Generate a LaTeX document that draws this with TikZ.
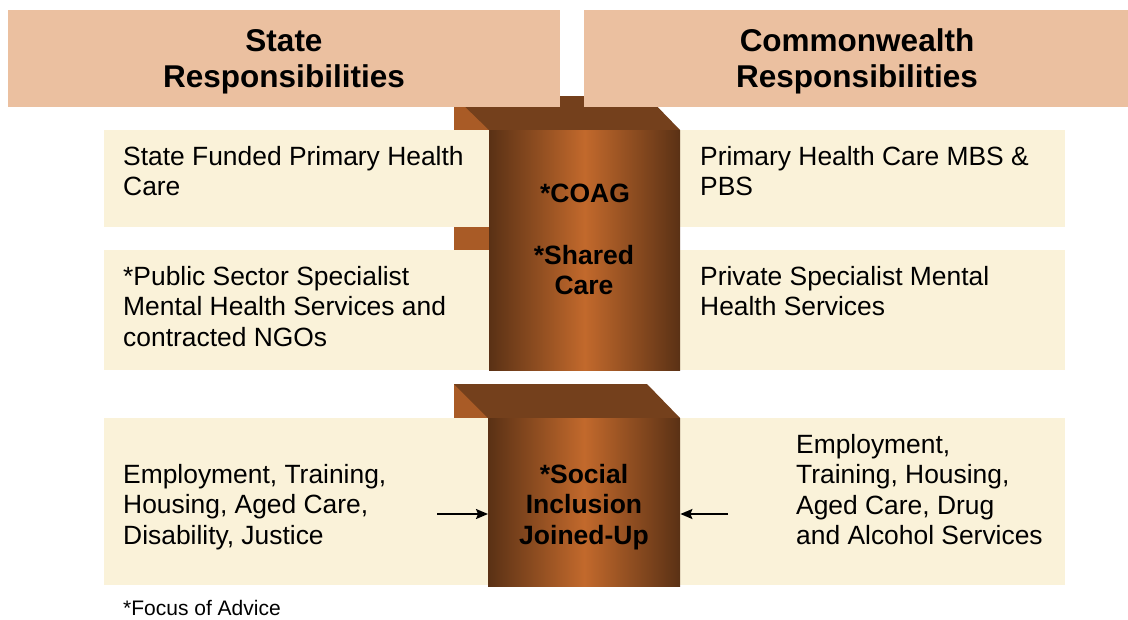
\documentclass[tikz,border=0pt]{standalone}
\usepackage{fontspec}
\setmainfont{Liberation Sans}
\usepackage{xcolor}
\usetikzlibrary{arrows.meta,calc}

\definecolor{headfill}{HTML}{EBC0A0}
\definecolor{creamfill}{HTML}{FAF2D9}
\definecolor{topbrown}{HTML}{74401C}
\definecolor{sidebrown}{HTML}{A95B26}
\definecolor{pillardark}{HTML}{5A3115}
\definecolor{pillarlight}{HTML}{C2692C}

\begin{document}
\begin{tikzpicture}[x=1pt, y=-1pt,
  head/.style={fill=headfill, inner sep=0, anchor=north west},
  htxt/.style={inner sep=0, align=center, font=\fontsize{31.5}{36}\selectfont\bfseries},
  cream/.style={fill=creamfill, inner sep=0, anchor=north west},
  txt/.style={inner sep=0, anchor=north west, align=left, font=\fontsize{26.4}{30.5}\selectfont},
  pillar/.style={shading=axis, left color=pillardark, right color=pillardark,
    middle color=pillarlight, inner sep=0, anchor=north west},
  ptxt/.style={inner sep=0, align=center, font=\fontsize{26.5}{30.5}\selectfont\bfseries},
  arr/.style={-{Stealth[length=12pt, width=10pt, inset=2pt]}, line width=1.8pt}]
\useasboundingbox (0,0) rectangle (1128,619);
% --- Blocks behind: side and top faces ---
\fill[sidebrown] (454,96) rectangle (489,336);
\fill[topbrown] (454,96) -- (647,96) -- (680,130) -- (489,130) -- cycle;
\fill[sidebrown] (454,384) rectangle (488,552);
\fill[topbrown] (454,384) -- (647,384) -- (680,418) -- (488,418) -- cycle;
% --- Headers ---
\node[head, minimum width=552pt, minimum height=97pt] (state) at (8,10) {};
\node[head, minimum width=544pt, minimum height=97pt] (cwlth) at (584,10) {};
\node[htxt] (statetxt) at (284,61.5) {State\\Responsibilities};
\node[htxt] (cwlthtxt) at (857,61.5) {Commonwealth\\Responsibilities};
% --- Left column ---
\node[cream, minimum width=385pt, minimum height=97pt] (sphc) at (104,130) {};
\node[cream, minimum width=385pt, minimum height=120pt] (psmh) at (104,250) {};
\node[cream, minimum width=385pt, minimum height=167pt] (stsoc) at (104,418) {};
\node[txt] (sphctxt) at (123,146) {State Funded Primary Health\\Care};
\node[txt] (psmhtxt) at (123,266) {*Public Sector Specialist\\Mental Health Services and\\contracted NGOs};
\node[txt] (stsoctxt) at (123,464) {Employment, Training,\\Housing, Aged Care,\\Disability, Justice};
% --- Right column ---
\node[cream, minimum width=385pt, minimum height=97pt] (mbs) at (680,130) {};
\node[cream, minimum width=385pt, minimum height=120pt] (prmh) at (680,250) {};
\node[cream, minimum width=385pt, minimum height=167pt] (cwsoc) at (680,418) {};
\node[txt] (mbstxt) at (700,146) {Primary Health Care MBS \&\\PBS};
\node[txt] (prmhtxt) at (700,266) {Private Specialist Mental\\Health Services};
\node[txt] (cwsoctxt) at (796,434) {Employment,\\Training, Housing,\\Aged Care, Drug\\and Alcohol Services};
% --- Middle pillars ---
\node[pillar, minimum width=191pt, minimum height=240pt] (upper) at (489,130) {};
\node[ptxt] (coag) at (585,193) {*COAG};
\node[ptxt] (shared) at (584,270) {*Shared\\Care};
\node[pillar, minimum width=192pt, minimum height=168pt] (social) at (488,418) {};
\node[ptxt] (socialtxt) at (584,507) {*Social\\Inclusion\\Joined-Up};
% --- Arrows into the pillar ---
\coordinate (inleft) at (437,514);
\coordinate (inright) at (728,514);
\draw[arr] (inleft) -- (inleft -| social.west);
\draw[arr] (inright) -- (inright -| social.east);
% --- Footnote ---
\node[inner sep=0, anchor=west, font=\fontsize{21}{24}\selectfont] (focus) at (123,608) {*Focus of Advice};
\end{tikzpicture}
\end{document}
